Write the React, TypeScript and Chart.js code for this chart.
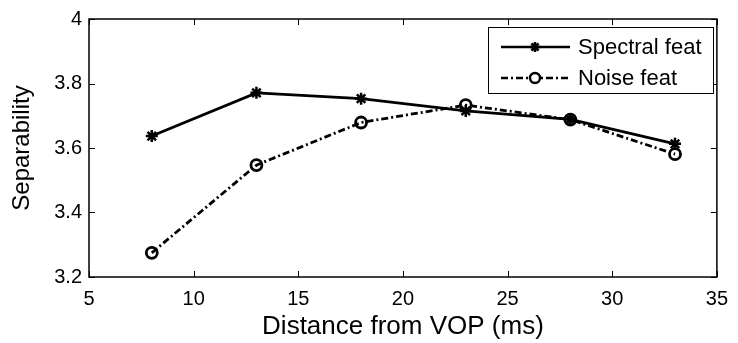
import React, { useEffect, useRef } from "react";
import { Chart, registerables } from "chart.js";

Chart.register(...registerables);

const distances = [8, 13, 18, 23, 28, 33];
const spectralFeat = [3.637, 3.771, 3.753, 3.715, 3.689, 3.613];
const noiseFeat = [3.275, 3.547, 3.679, 3.733, 3.688, 3.581];
const seriesNames = ["Spectral feat", "Noise feat"];
const xTitle = "Distance from VOP (ms)";
const yTitle = "Separability";

const FONT = "'Liberation Sans', Arial, Helvetica, sans-serif";
const DASH_DOT = [7, 3, 2, 3];

function drawStar(ctx: CanvasRenderingContext2D, x: number, y: number, r: number) {
  ctx.beginPath();
  ctx.moveTo(x - r, y);
  ctx.lineTo(x + r, y);
  ctx.moveTo(x, y - r);
  ctx.lineTo(x, y + r);
  const d = r * 0.7071;
  ctx.moveTo(x - d, y - d);
  ctx.lineTo(x + d, y + d);
  ctx.moveTo(x - d, y + d);
  ctx.lineTo(x + d, y - d);
  ctx.stroke();
}

const framePlugin = {
  id: "matlabFrame",
  afterDraw(chart: any) {
    const { ctx, chartArea, scales } = chart;
    const { left, right, top, bottom } = chartArea;
    ctx.save();
    ctx.strokeStyle = "#000";
    ctx.lineWidth = 1.5;
    ctx.setLineDash([]);
    ctx.strokeRect(left, top, right - left, bottom - top);
    const tl = 6;
    ctx.lineWidth = 1;
    ctx.beginPath();
    scales.x.ticks.forEach((t: any) => {
      const px = Math.round(scales.x.getPixelForValue(t.value)) + 0.5;
      ctx.moveTo(px, bottom);
      ctx.lineTo(px, bottom - tl);
      ctx.moveTo(px, top);
      ctx.lineTo(px, top + tl);
    });
    scales.y.ticks.forEach((t: any) => {
      const py = Math.round(scales.y.getPixelForValue(t.value)) + 0.5;
      ctx.moveTo(left, py);
      ctx.lineTo(left + tl, py);
      ctx.moveTo(right, py);
      ctx.lineTo(right - tl, py);
    });
    ctx.stroke();

    // legend
    const bx = 488, by = 27, bw = 225, bh = 66;
    ctx.fillStyle = "#fff";
    ctx.fillRect(bx, by, bw, bh);
    ctx.lineWidth = 1;
    ctx.strokeRect(bx + 0.5, by + 0.5, bw, bh);
    const rows = [47, 78];
    const x0 = 501, x1 = 570, xm = 535;
    ctx.font = `22px ${FONT}`;
    ctx.textBaseline = "middle";
    ctx.textAlign = "left";
    rows.forEach((ry, i) => {
      ctx.strokeStyle = "#000";
      ctx.lineWidth = 2.5;
      ctx.setLineDash(i === 0 ? [] : DASH_DOT);
      ctx.beginPath();
      ctx.moveTo(x0, ry);
      ctx.lineTo(x1, ry);
      ctx.stroke();
      ctx.setLineDash([]);
      if (i === 0) {
        drawStar(ctx, xm, ry, 5);
      } else {
        ctx.fillStyle = "#fff";
        ctx.beginPath();
        ctx.arc(xm, ry, 5, 0, Math.PI * 2);
        ctx.fill();
        ctx.stroke();
      }
      ctx.fillStyle = "#000";
      ctx.fillText(seriesNames[i], 578, ry + 1);
    });
    ctx.restore();
  },
};

export default function App() {
  const ref = useRef<HTMLCanvasElement>(null);

  useEffect(() => {
    document.body.style.margin = "0";
    const canvas = ref.current;
    if (!canvas) return;
    const chart = new Chart(canvas, {
      type: "line",
      data: {
        datasets: [
          {
            label: seriesNames[0],
            data: distances.map((x, i) => ({ x, y: spectralFeat[i] })),
            borderColor: "#000",
            backgroundColor: "#000",
            borderWidth: 2.8,
            pointStyle: "star",
            pointRadius: 6,
            pointBorderWidth: 2.5,
            pointBorderColor: "#000",
            tension: 0,
          },
          {
            label: seriesNames[1],
            data: distances.map((x, i) => ({ x, y: noiseFeat[i] })),
            borderColor: "#000",
            backgroundColor: "rgba(0,0,0,0)",
            borderWidth: 2.8,
            borderDash: DASH_DOT,
            pointStyle: "circle",
            pointRadius: 5.5,
            pointBorderWidth: 2.8,
            pointBorderColor: "#000",
            pointBackgroundColor: "rgba(0,0,0,0)",
            tension: 0,
          },
        ],
      },
      options: {
        responsive: false,
        animation: false,
        layout: { padding: { top: 15, right: 15, left: 0, bottom: 0 } },
        plugins: {
          legend: { display: false },
          tooltip: { enabled: false },
        },
        scales: {
          x: {
            type: "linear",
            min: 5,
            max: 35,
            grid: { display: false, drawTicks: false },
            border: { display: false },
            ticks: {
              stepSize: 5,
              color: "#000",
              padding: 10,
              maxRotation: 0,
              font: { family: FONT, size: 20 },
            },
            title: {
              display: true,
              text: xTitle,
              color: "#000",
              font: { family: FONT, size: 26 },
              padding: { top: 2, bottom: 1 },
            },
            afterFit: (s: any) => {
              s.height = 66;
            },
          },
          y: {
            type: "linear",
            min: 3.2,
            max: 4,
            grid: { display: false, drawTicks: false },
            border: { display: false },
            ticks: {
              stepSize: 0.2,
              color: "#000",
              padding: 7,
              font: { family: FONT, size: 20 },
              callback: (v: any) => String(Number(Number(v).toFixed(1))),
            },
            title: {
              display: true,
              text: yTitle,
              color: "#000",
              font: { family: FONT, size: 24 },
              padding: { top: 8, bottom: 0 },
            },
            afterFit: (s: any) => {
              s.width = 89;
            },
          },
        },
      },
      plugins: [framePlugin],
    });
    return () => chart.destroy();
  }, []);

  return (
    <div style={{ position: "absolute", left: 0, top: 0, width: 738, height: 343, background: "#fff" }}>
      <canvas ref={ref} width={738} height={343} />
    </div>
  );
}
